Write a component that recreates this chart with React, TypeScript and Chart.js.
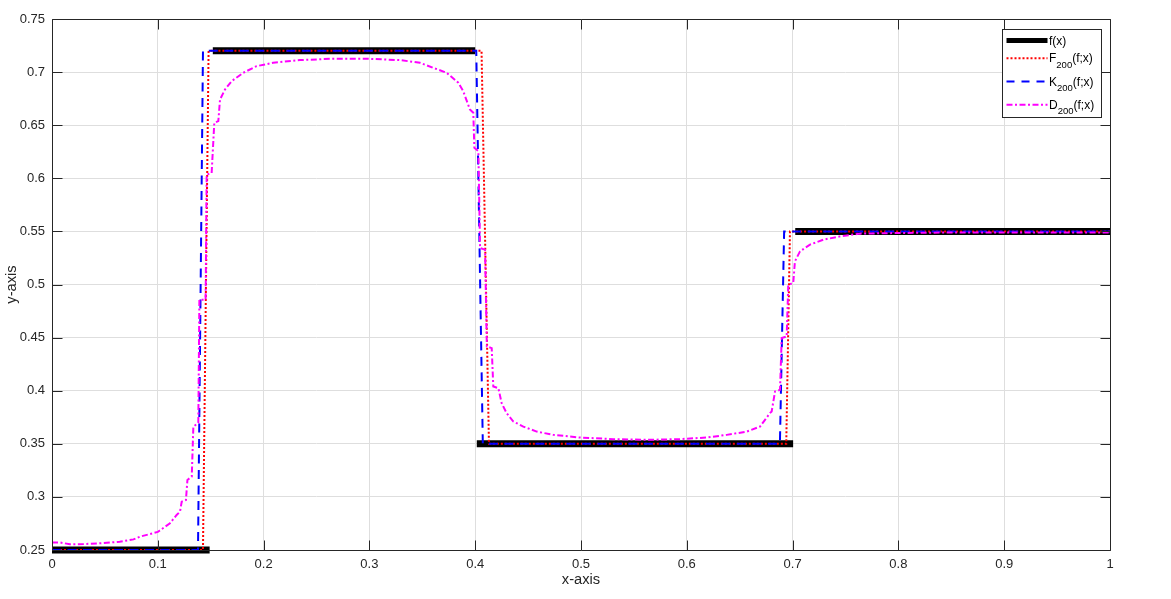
import React, { useEffect, useRef } from 'react';
import { Chart, registerables } from 'chart.js';

Chart.register(...registerables);

// ---- tick values / labels ----
const xTickValues = [0, 0.1, 0.2, 0.3, 0.4, 0.5, 0.6, 0.7, 0.8, 0.9, 1];
const xTickLabels = ['0', '0.1', '0.2', '0.3', '0.4', '0.5', '0.6', '0.7', '0.8', '0.9', '1'];
const yTickValues = [0.25, 0.3, 0.35, 0.4, 0.45, 0.5, 0.55, 0.6, 0.65, 0.7, 0.75];
const yTickLabels = ['0.25', '0.3', '0.35', '0.4', '0.45', '0.5', '0.55', '0.6', '0.65', '0.7', '0.75'];

// ---- f(x): piecewise constant (null = gap between pieces) ----
const fX = [0, 0.149, 0.15, 0.152, 0.4, 0.4008, 0.4015, 0.7005, 0.7015, 0.7025, 1];
const fY = [0.25, 0.25, null, 0.72, 0.72, null, 0.35, 0.35, null, 0.55, 0.55];

// ---- F_200(f;x) ----
const FX = [0, 0.1427, 0.148, 0.406, 0.413, 0.694, 0.6975, 1];
const FY = [0.25, 0.25, 0.72, 0.72, 0.35, 0.35, 0.55, 0.55];

// ---- K_200(f;x) ----
const KX = [0, 0.138, 0.1427, 0.401, 0.4072, 0.688, 0.692, 1];
const KY = [0.25, 0.25, 0.72, 0.72, 0.35, 0.35, 0.55, 0.55];

// ---- D_200(f;x) ----
const DX = [
  0, 0.008, 0.017, 0.03, 0.045, 0.064, 0.077, 0.083, 0.1, 0.1115,
  0.1178, 0.121, 0.1226, 0.1266, 0.128, 0.1321, 0.1336, 0.1383, 0.1393, 0.1452,
  0.1462, 0.1509, 0.1534, 0.1572, 0.1588, 0.1635, 0.1698, 0.1808, 0.1934, 0.209,
  0.2344, 0.2659, 0.2974, 0.3289, 0.3478, 0.3604, 0.373, 0.384, 0.3887, 0.395,
  0.3982, 0.3992, 0.403, 0.4046, 0.4093, 0.411, 0.4156, 0.4171, 0.4219, 0.425,
  0.4297, 0.436, 0.4455, 0.4581, 0.4738, 0.499, 0.5305, 0.562, 0.5936, 0.6188,
  0.6377, 0.6566, 0.6692, 0.6786, 0.6802, 0.6834, 0.6881, 0.6897, 0.6944, 0.6959,
  0.7006, 0.7022, 0.707, 0.7164, 0.729, 0.7448, 0.7637, 0.8, 0.85, 0.9,
  1,
];
const DY = [
  0.257, 0.257, 0.2554, 0.2556, 0.2563, 0.2578, 0.26, 0.2625, 0.267, 0.2752,
  0.283, 0.2861, 0.2955, 0.2971, 0.316, 0.3191, 0.3662, 0.3697, 0.4856, 0.4856,
  0.6035, 0.605, 0.6522, 0.6538, 0.6742, 0.6836, 0.6915, 0.6994, 0.7056, 0.7088,
  0.7113, 0.7126, 0.7126, 0.7113, 0.7088, 0.704, 0.6994, 0.69, 0.682, 0.6648,
  0.6617, 0.6287, 0.6255, 0.5344, 0.5328, 0.4416, 0.4401, 0.4039, 0.4024, 0.3883,
  0.3789, 0.371, 0.3662, 0.3615, 0.3584, 0.3559, 0.3544, 0.3537, 0.3544, 0.3559,
  0.3584, 0.3615, 0.3662, 0.3789, 0.3804, 0.3992, 0.4008, 0.4496, 0.4511, 0.4998,
  0.5014, 0.5218, 0.5312, 0.5375, 0.5422, 0.5453, 0.5479, 0.5485, 0.549, 0.549,
  0.549,
];

const RED_DASH = [2, 2];
const BLUE_DASH = [9, 6.5];
const MAG_DASH = [6, 2.5, 2, 2.5];

const legendItems = [
  { main: 'f(x)', sub: '', rest: '', color: '#000000', width: 5, dash: [] as number[] },
  { main: 'F', sub: '200', rest: '(f;x)', color: '#ff0000', width: 2, dash: RED_DASH },
  { main: 'K', sub: '200', rest: '(f;x)', color: '#0000ff', width: 2, dash: [8, 7] },
  { main: 'D', sub: '200', rest: '(f;x)', color: '#ff00ff', width: 2, dash: MAG_DASH },
];

const FONT = '"Liberation Sans", Arial, Helvetica, sans-serif';
const AXIS_COLOR = '#262626';

const zip = (xs: number[], ys: (number | null)[]) => xs.map((x, i) => ({ x, y: ys[i] }));

const matlabPlugin = {
  id: 'matlabDecor',
  afterDraw(chart: any) {
    const ctx = chart.ctx as CanvasRenderingContext2D;
    const a = chart.chartArea;
    const xs = chart.scales.x;
    const ys = chart.scales.y;
    const L = Math.round(a.left) + 0.5;
    const R = Math.round(a.right) + 0.5;
    const T = Math.round(a.top) + 0.5;
    const B = Math.round(a.bottom) + 0.5;
    const tl = 10;
    ctx.save();
    ctx.strokeStyle = AXIS_COLOR;
    ctx.lineWidth = 1;
    ctx.setLineDash([]);
    ctx.beginPath();
    ctx.rect(L, T, R - L, B - T);
    xTickValues.forEach((v) => {
      const px = Math.round(xs.getPixelForValue(v)) + 0.5;
      ctx.moveTo(px, B);
      ctx.lineTo(px, B - tl);
      ctx.moveTo(px, T);
      ctx.lineTo(px, T + tl);
    });
    yTickValues.forEach((v) => {
      const py = Math.round(ys.getPixelForValue(v)) + 0.5;
      ctx.moveTo(L, py);
      ctx.lineTo(L + tl, py);
      ctx.moveTo(R, py);
      ctx.lineTo(R - tl, py);
    });
    ctx.stroke();

    // legend
    const bx = Math.round(a.right) - 108 + 0.5;
    const by = Math.round(a.top) + 10 + 0.5;
    const bw = 99;
    const bh = 88;
    ctx.fillStyle = '#ffffff';
    ctx.fillRect(bx, by, bw, bh);
    ctx.strokeStyle = AXIS_COLOR;
    ctx.lineWidth = 1;
    ctx.strokeRect(bx, by, bw, bh);
    const baselines = [15, 32.7, 56, 79.3];
    legendItems.forEach((it, i) => {
      const base = by + baselines[i];
      const ly = base - 4;
      ctx.beginPath();
      ctx.strokeStyle = it.color;
      ctx.lineWidth = it.width;
      ctx.setLineDash(it.dash);
      ctx.moveTo(bx + 4, ly);
      ctx.lineTo(bx + 45, ly);
      ctx.stroke();
      ctx.setLineDash([]);
      ctx.fillStyle = '#000000';
      ctx.textBaseline = 'alphabetic';
      ctx.textAlign = 'left';
      let tx = bx + 46.5;
      ctx.font = `12px ${FONT}`;
      ctx.fillText(it.main, tx, base);
      tx += ctx.measureText(it.main).width;
      if (it.sub) {
        ctx.font = `9.5px ${FONT}`;
        ctx.fillText(it.sub, tx, base + 5.5);
        tx += ctx.measureText(it.sub).width;
      }
      if (it.rest) {
        ctx.font = `12px ${FONT}`;
        ctx.fillText(it.rest, tx, base);
      }
    });
    ctx.restore();
  },
};

export default function App() {
  const canvasRef = useRef<HTMLCanvasElement | null>(null);

  useEffect(() => {
    const canvas = canvasRef.current;
    if (!canvas) return;
    const common = { pointRadius: 0, pointHoverRadius: 0, tension: 0, fill: false, clip: false as const };
    const chart = new Chart(canvas, {
      type: 'line',
      data: {
        datasets: [
          {
            label: 'f(x)', data: zip(fX, fY), borderColor: '#000000', borderWidth: 7,
            spanGaps: false, order: 4, ...common,
          },
          {
            label: 'F200(f;x)', data: zip(FX, FY), borderColor: '#ff0000', borderWidth: 2,
            borderDash: RED_DASH, order: 3, ...common,
          },
          {
            label: 'K200(f;x)', data: zip(KX, KY), borderColor: '#0000ff', borderWidth: 2,
            borderDash: BLUE_DASH, order: 2, ...common,
          },
          {
            label: 'D200(f;x)', data: zip(DX, DY), borderColor: '#ff00ff', borderWidth: 2,
            borderDash: MAG_DASH, order: 1, ...common,
          },
        ] as any,
      },
      options: {
        responsive: false,
        animation: false,
        devicePixelRatio: 1,
        events: [],
        layout: { padding: { left: 0, top: 19, right: 61, bottom: 0 } },
        plugins: { legend: { display: false }, tooltip: { enabled: false } },
        scales: {
          x: {
            type: 'linear',
            min: 0,
            max: 1,
            afterFit: (s: any) => { s.height = 49; },
            afterBuildTicks: (s: any) => { s.ticks = xTickValues.map((v) => ({ value: v })); },
            ticks: {
              color: AXIS_COLOR,
              font: { family: FONT, size: 13 },
              padding: 7,
              maxRotation: 0,
              autoSkip: false,
              callback: (_v: any, i: number) => xTickLabels[i],
            },
            grid: { color: '#dedede', drawTicks: false },
            border: { display: false },
            title: {
              display: true, text: 'x-axis', color: AXIS_COLOR,
              font: { family: FONT, size: 14.7 }, padding: { top: 0, bottom: 10 },
            },
          },
          y: {
            type: 'linear',
            min: 0.25,
            max: 0.75,
            afterFit: (s: any) => { s.width = 52; },
            afterBuildTicks: (s: any) => { s.ticks = yTickValues.map((v) => ({ value: v })); },
            ticks: {
              color: AXIS_COLOR,
              font: { family: FONT, size: 13 },
              padding: 7,
              autoSkip: false,
              callback: (_v: any, i: number) => yTickLabels[i],
            },
            grid: { color: '#dedede', drawTicks: false },
            border: { display: false },
            title: {
              display: true, text: 'y-axis', color: AXIS_COLOR,
              font: { family: FONT, size: 14.7 }, padding: { top: 3, bottom: 0 },
            },
          },
        },
      },
      plugins: [matlabPlugin],
    });
    return () => chart.destroy();
  }, []);

  return (
    <div style={{ position: 'fixed', left: 0, top: 0, width: 1171, height: 599, background: '#ffffff' }}>
      <canvas ref={canvasRef} width={1171} height={599} style={{ display: 'block' }} />
    </div>
  );
}
